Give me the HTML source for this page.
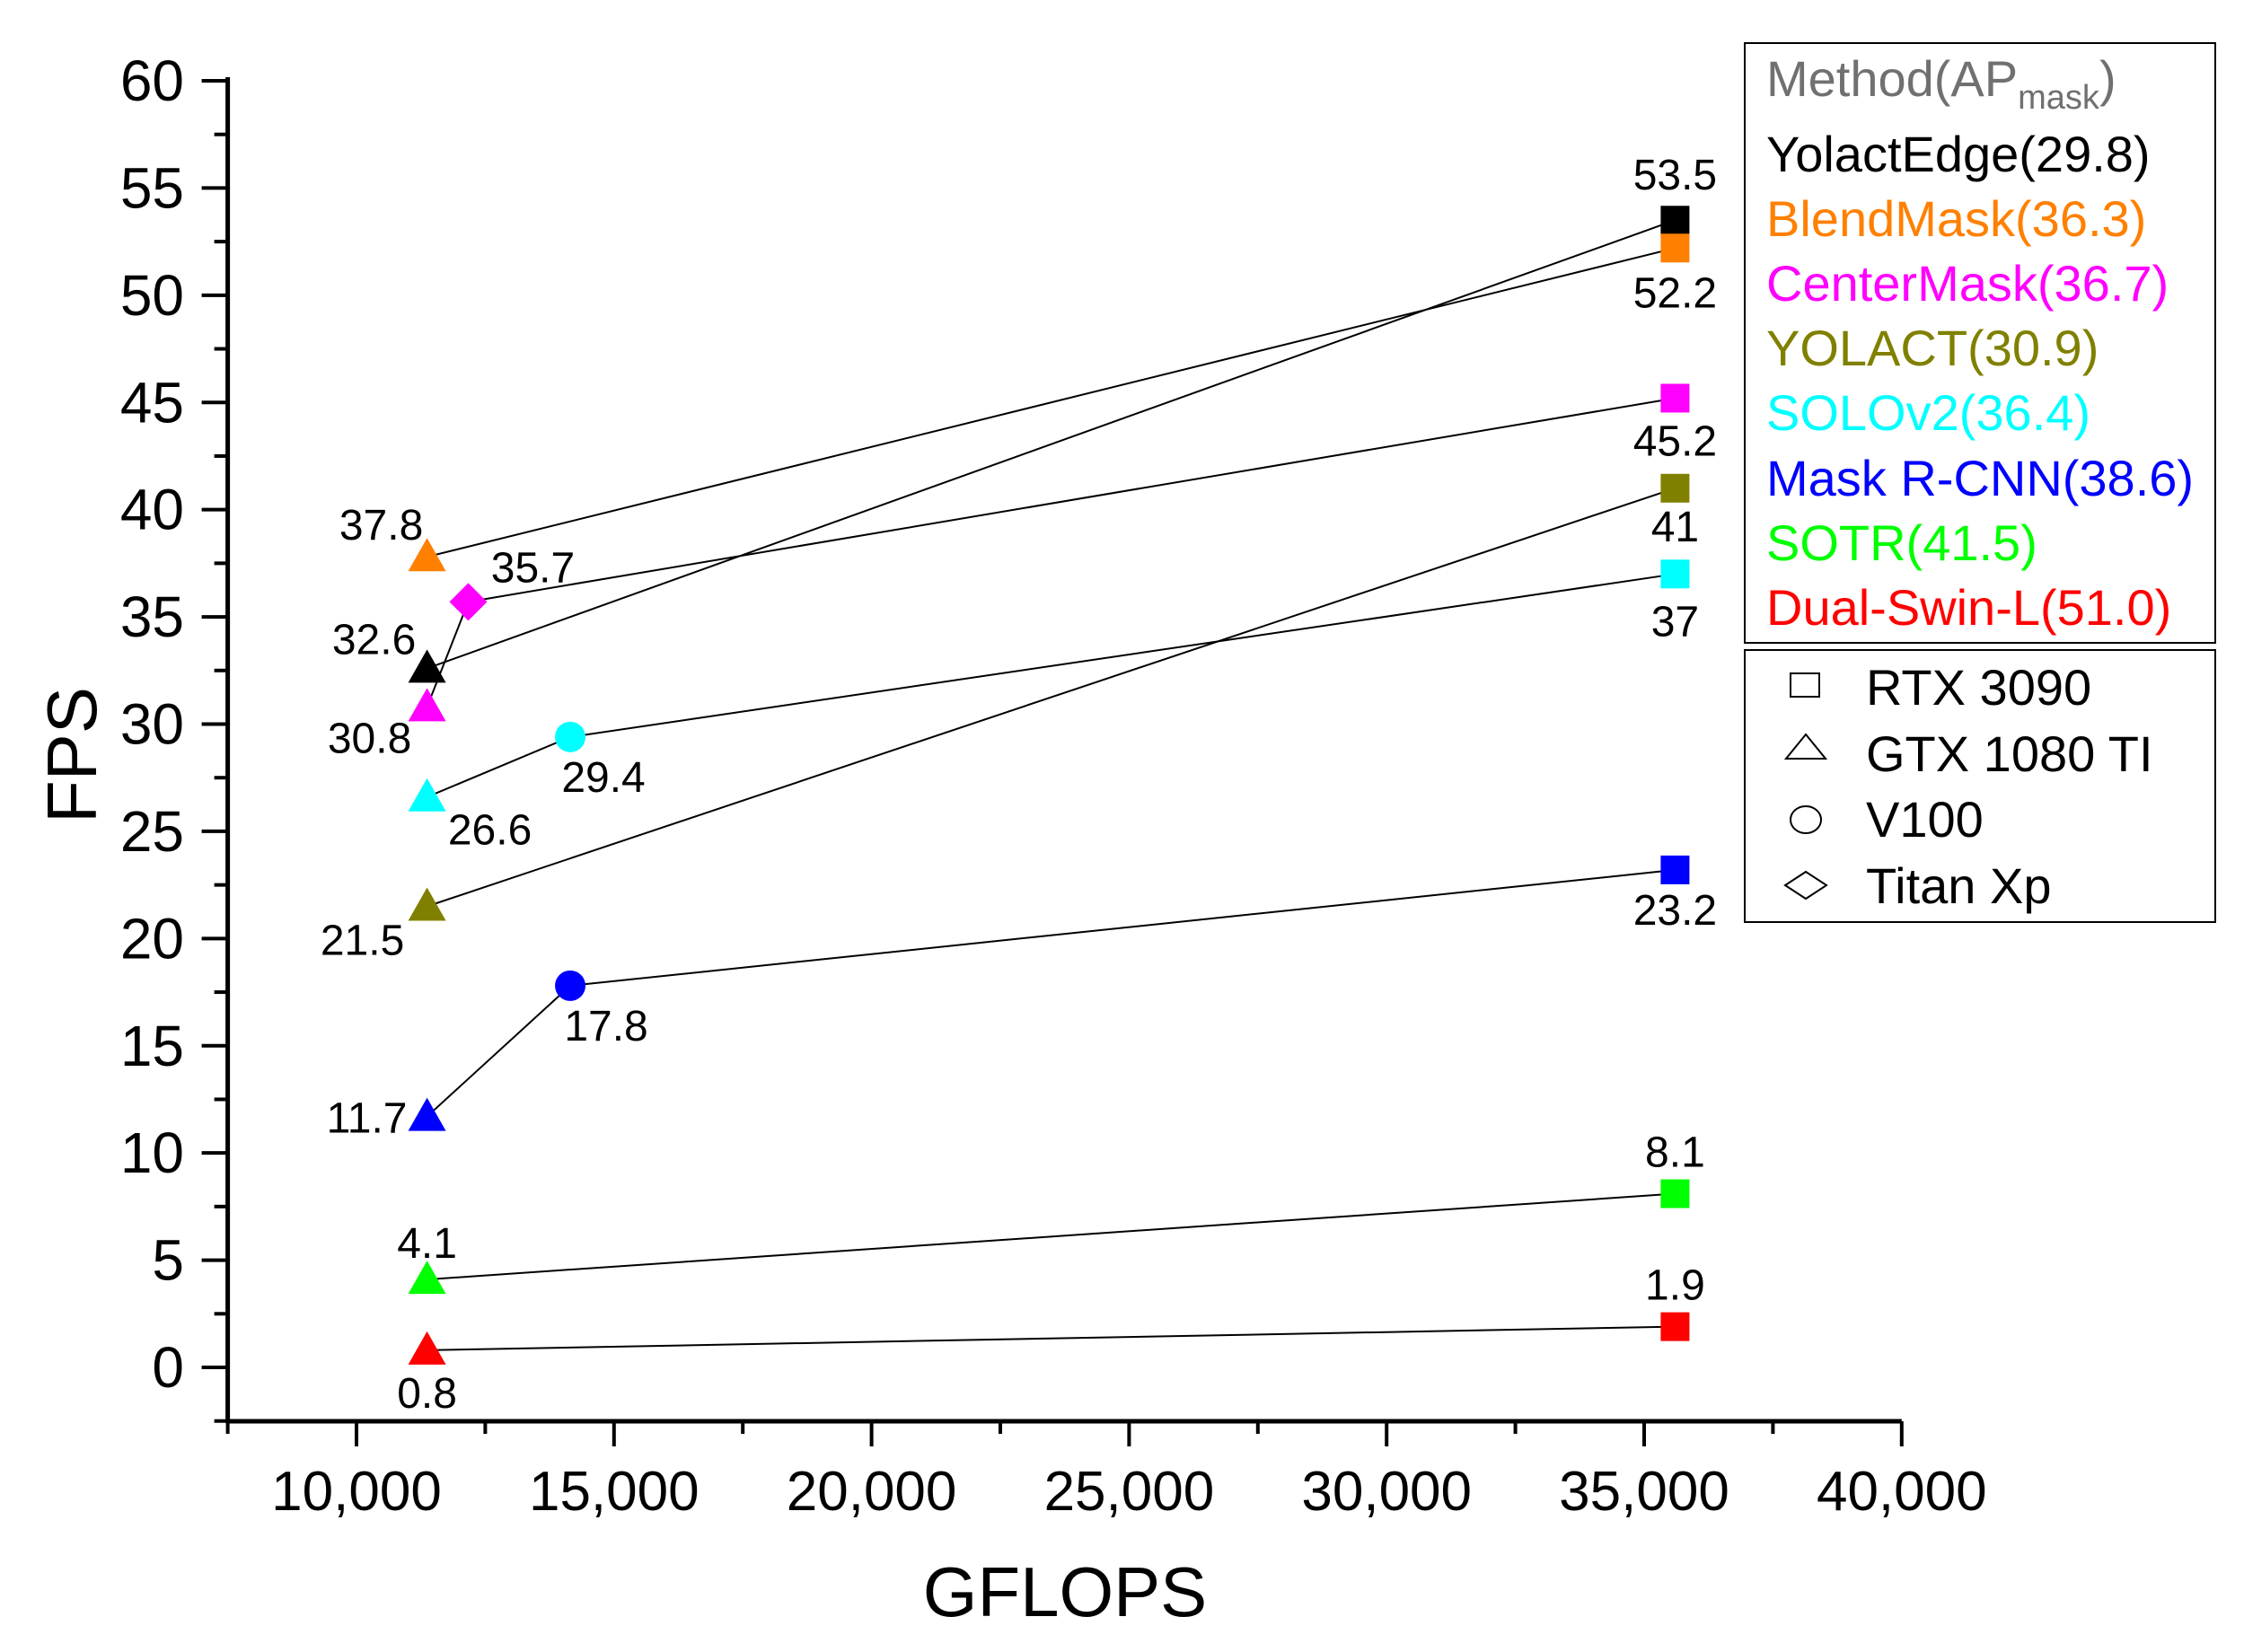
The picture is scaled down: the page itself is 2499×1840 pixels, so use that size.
<!DOCTYPE html>
<html><head><meta charset="utf-8">
<style>
html,body{margin:0;padding:0;background:#fff;}
svg{display:block;font-family:"Liberation Sans",Arial,sans-serif;}
</style></head>
<body>
<svg id="chart" width="2499" height="1840" viewBox="0 0 2499 1840" xmlns="http://www.w3.org/2000/svg">
<rect width="2499" height="1840" fill="#fff"/>
<g id="axes"></g>
<g id="lines"></g>
<g id="marks"></g>
<g id="labels"></g>
<text x="1186" y="1800" font-size="78" text-anchor="middle">GFLOPS</text>
<text transform="translate(107,841) rotate(-90)" font-size="78" text-anchor="middle">FPS</text>
<g>
<rect x="1943" y="48" width="524" height="668" fill="none" stroke="#000" stroke-width="2"/>
<text x="1967" y="107" font-size="56" fill="#707070">Method(AP<tspan font-size="38" dy="14">mask</tspan><tspan dy="-14">)</tspan></text>
<text x="1967" y="191" font-size="56" fill="#000">YolactEdge(29.8)</text>
<text x="1967" y="263" font-size="56" fill="#ff8000">BlendMask(36.3)</text>
<text x="1967" y="335" font-size="56" fill="#ff00ff">CenterMask(36.7)</text>
<text x="1967" y="407" font-size="56" fill="#808000">YOLACT(30.9)</text>
<text x="1967" y="479" font-size="56" fill="#00ffff">SOLOv2(36.4)</text>
<text x="1967" y="552" font-size="56" fill="#0000ff">Mask R-CNN(38.6)</text>
<text x="1967" y="624" font-size="56" fill="#00ff00">SOTR(41.5)</text>
<text x="1967" y="696" font-size="56" fill="#ff0000">Dual-Swin-L(51.0)</text>
</g>
<g font-size="56">
<rect x="1943" y="724" width="524" height="303" fill="none" stroke="#000" stroke-width="2"/>
<rect x="1994" y="750" width="32" height="26" fill="none" stroke="#000" stroke-width="2"/>
<text x="2078" y="785">RTX 3090</text>
<polygon points="2011,818 1989,845 2033,845" fill="none" stroke="#000" stroke-width="2"/>
<text x="2078" y="859">GTX 1080 TI</text>
<ellipse cx="2011" cy="913" rx="17" ry="15" fill="none" stroke="#000" stroke-width="2"/>
<text x="2078" y="932">V100</text>
<polygon points="2011,971 2034,986 2011,1001 1988,986" fill="none" stroke="#000" stroke-width="2"/>
<text x="2078" y="1006">Titan Xp</text>
</g>
</svg>
<script>
const xTicks = [10000, 15000, 20000, 25000, 30000, 35000, 40000];
const xTickLabels = ["10,000","15,000","20,000","25,000","30,000","35,000","40,000"];
const yTicks = [0,5,10,15,20,25,30,35,40,45,50,55,60];
const seriesNames = ["YolactEdge","BlendMask","CenterMask","YOLACT","SOLOv2","Mask R-CNN","SOTR","Dual-Swin-L"];
const seriesColors = ["#000000","#ff8000","#ff00ff","#808000","#00ffff","#0000ff","#00ff00","#ff0000"];
// GFLOPS per device
const deviceGflops = {gtx:11370, titan:12170, v100:14150, rtx:35600};
const seriesDevices = [["gtx","rtx"],["gtx","rtx"],["gtx","titan","rtx"],["gtx","rtx"],["gtx","v100","rtx"],["gtx","v100","rtx"],["gtx","rtx"],["gtx","rtx"]];
const seriesFps = [[32.6,53.5],[37.8,52.2],[30.8,35.7,45.2],[21.5,41],[26.6,29.4,37],[11.7,17.8,23.2],[4.1,8.1],[0.8,1.9]];
const valueLabels = [["32.6","53.5"],["37.8","52.2"],["30.8","35.7","45.2"],["21.5","41"],["26.6","29.4","37"],["11.7","17.8","23.2"],["4.1","8.1"],["0.8","1.9"]];
// label offsets (style)
const labelOffsets = [[[-59,-16],[0,-34]],[[-51,-19],[0,66]],[[-64,51],[72,-22],[0,64]],[[-72,54],[0,59]],[[70,53],[37,61],[0,69]],[[-67,18],[40,61],[0,61]],[[0,-24],[0,-30]],[[0,64],[0,-30]]];

const NS="http://www.w3.org/2000/svg";
const X10K=397, XPX=286.8/5000;
const Y0=1523, YPX=1433/60;
const sx=v=>X10K+(v-10000)*XPX;
const sy=v=>Y0-v*YPX;
const X0=sx(7500);
function mk(tag,attrs,parent){const e=document.createElementNS(NS,tag);for(const k in attrs)e.setAttribute(k,attrs[k]);parent.appendChild(e);return e;}
const axes=document.getElementById('axes');
let a=mk('line',{x1:X0-2,y1:1583,x2:sx(40000),y2:1583,stroke:'#000','stroke-width':5},axes);


a=mk('line',{x1:X0,y1:86,x2:X0,y2:1585,stroke:'#000','stroke-width':5},axes);


for(let v=7500;v<=40000;v+=2500){
  const major=v%5000===0;
  const t=mk('line',{x1:sx(v),y1:1583,x2:sx(v),y2:major?1611:1597,stroke:'#000','stroke-width':4},axes);
  
  
}
xTicks.forEach((v,i)=>{
  const t=mk('text',{x:sx(v),y:1682,'font-size':62,'text-anchor':'middle'},axes);
  t.textContent=xTickLabels[i];
  
  
});
for(let v=-2.5;v<=60;v+=2.5){
  const major=v%5===0;
  const t=mk('line',{x1:X0,y1:sy(v),x2:major?X0-29:X0-15,y2:sy(v),stroke:'#000','stroke-width':4},axes);
  
  
}
yTicks.forEach(v=>{
  const t=mk('text',{x:205,y:sy(v)+22,'font-size':64,'text-anchor':'end'},axes);
  t.textContent=String(v);
  
  
});
const lines=document.getElementById('lines'),marks=document.getElementById('marks'),labels=document.getElementById('labels');
seriesNames.forEach((name,s)=>{
  const pts=seriesDevices[s].map((d,i)=>[sx(deviceGflops[d]),sy(seriesFps[s][i])]);
  const pl=mk('polyline',{points:pts.map(p=>p.join(',')).join(' '),fill:'none',stroke:'#000','stroke-width':2},lines);
  
  
  seriesDevices[s].forEach((d,i)=>{
    const [x,y]=pts[i];const c=seriesColors[s];let m;
    if(d==='rtx') m=mk('rect',{x:x-16,y:y-16,width:32,height:32,fill:c},marks);
    else if(d==='gtx') m=mk('polygon',{points:`${x},${y-21} ${x-21},${y+16} ${x+21},${y+16}`,fill:c},marks);
    else if(d==='v100') m=mk('circle',{cx:x,cy:y,r:17,fill:c},marks);
    else m=mk('polygon',{points:`${x},${y-21} ${x+21},${y} ${x},${y+21} ${x-21},${y}`,fill:c},marks);
    
    
    const o=labelOffsets[s][i];
    const t=mk('text',{x:x+o[0],y:y+o[1],'font-size':48,'text-anchor':'middle'},labels);
    t.textContent=valueLabels[s][i];
    
    
  });
});
</script>
</body></html>
